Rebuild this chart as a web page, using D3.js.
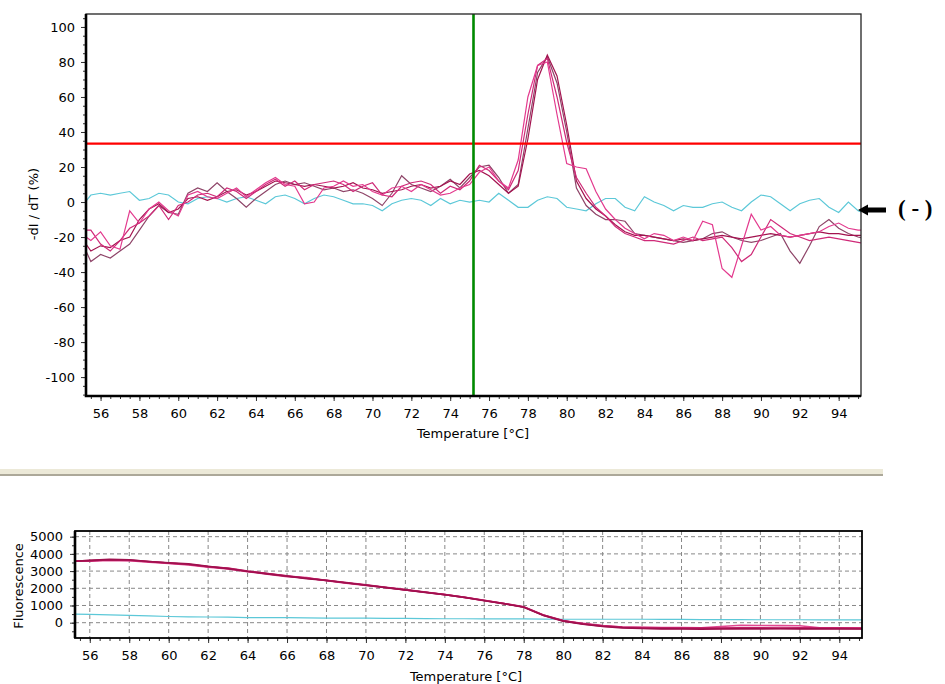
<!DOCTYPE html>
<html>
<head>
<meta charset="utf-8">
<script src="https://cdn.jsdelivr.net/npm/d3@7"></script>
<style>
  body { margin: 0; background: #fff; }
  svg { display: block; }
  text { font-family: "DejaVu Sans", Verdana, sans-serif; }
</style>
</head>
<body>
<svg id="chart" width="945" height="684"></svg>
<script>
// melt curve data
let temps = [55.0, 55.5, 56.0, 56.5, 57.0, 57.5, 58.0, 58.5, 59.0, 59.5,
  60.0, 60.5, 61.0, 61.5, 62.0, 62.5, 63.0, 63.5, 64.0, 64.5,
  65.0, 65.5, 66.0, 66.5, 67.0, 67.5, 68.0, 68.5, 69.0, 69.5,
  70.0, 70.5, 71.0, 71.5, 72.0, 72.5, 73.0, 73.5, 74.0, 74.5,
  75.0, 75.5, 76.0, 76.5, 77.0, 77.5, 78.0, 78.5, 79.0, 79.5,
  80.0, 80.5, 81.0, 81.5, 82.0, 82.5, 83.0, 83.5, 84.0, 84.5,
  85.0, 85.5, 86.0, 86.5, 87.0, 87.5, 88.0, 88.5, 89.0, 89.5,
  90.0, 90.5, 91.0, 91.5, 92.0, 92.5, 93.0, 93.5, 94.0, 94.5,
  95.0, 95.5];

let dA = [-18, -22, -17, -25, -27, -5, -12, -4, 0, -5,
  -8, 4, 6, 3, 2, 5, 8, 3, 7, 11,
  14, 10, 9, -1, 0, 8, 9, 12, 9, 10,
  6, 4, 8, 9, 6, 10, 7, 4, 5, 8,
  10, 17, 20, 12, 8, 24, 60, 78, 80, 50,
  22, 20, 19, 6, -4, -10, -15, -18, -21, -18,
  -19, -22, -20, -22, -11, -13, -38, -43, -25, -7,
  -16, -14, -19, -20, -19, -18, -17, -14, -12, -15,
  -16, -16];
let dB = [-20, -28, -25, -26, -22, -20, -10, -4, -1, -6,
  -4, 2, 3, 1, 3, 6, 7, 4, 6, 9,
  12, 11, 10, 9, 10, 9, 8, 9, 11, 8,
  7, 5, 6, 7, 9, 10, 8, 9, 12, 10,
  16, 18, 15, 10, 5, 9, 36, 70, 84, 72,
  44, 12, 2, -4, -8, -13, -17, -19, -19, -20,
  -21, -22, -21, -22, -21, -20, -19, -20, -21, -20,
  -19, -18, -19, -20, -19, -18, -17, -18, -18, -19,
  -19, -19];
let dC = [-22, -34, -30, -32, -28, -24, -16, -8, -2, -6,
  -7, 5, 8, 6, 11, 6, 2, -3, 2, 6,
  10, 12, 10, 11, 9, 7, 8, 6, 7, 5,
  2, -2, 5, 15, 10, 8, 6, 9, 13, 8,
  14, 20, 21, 14, 5, 10, 42, 74, 83, 68,
  40, 8, -2, -7, -10, -10, -11, -18, -19, -20,
  -21, -22, -23, -22, -21, -18, -17, -20, -22, -23,
  -22, -20, -18, -28, -35, -25, -14, -10, -15, -18,
  -20, -21];
let dD = [-16, -16, -24, -28, -22, -15, -12, -8, -2, -10,
  -2, 0, 4, 5, 3, 8, 6, 2, 6, 10,
  13, 9, 12, 7, 10, 11, 12, 10, 6, 9,
  11, 4, 3, 9, 11, 12, 10, 5, 9, 7,
  12, 21, 18, 12, 7, 18, 50, 78, 82, 60,
  34, 14, 5, -3, -8, -14, -18, -20, -22, -22,
  -23, -24, -22, -20, -22, -21, -20, -26, -34, -30,
  -20, -10, -14, -18, -20, -22, -21, -20, -21, -22,
  -23, -24];
let dNeg = [-3, 4, 5, 4, 5, 6, 1, 2, 5, 4,
  0, -1, 2, 3, 2, 0, 2, 3, 1, -1,
  3, 4, 2, -1, 2, 4, 3, 1, -1, -1,
  -2, -5, -1, 1, 2, 1, -2, 2, -1, 1,
  0, 1, 0, 5, 1, -3, -3, 1, 3, 2,
  -3, -4, -5, -1, 2, 2, -3, -5, 3, 0,
  -2, -5, -2, -3, -3, -1, 0, -3, -5, 0,
  4, 3, -1, -5, -1, 1, 2, -3, -6, 0,
  -5, -7];

let threshold = 33.4;
let cursorTemp = 75.2;

// raw fluorescence
let ftemps = [55, 56, 57, 58, 59, 60, 61, 62, 63, 64,
  65, 66, 67, 68, 69, 70, 71, 72, 73, 74,
  75, 76, 77, 78, 79, 80, 81, 82, 83, 84,
  85, 86, 87, 88, 89, 90, 91, 92, 93, 94,
  95, 96];
let fA = [3580, 3600, 3640, 3620, 3540, 3460, 3380, 3250, 3170, 3000,
  2860, 2720, 2590, 2470, 2330, 2200, 2060, 1920, 1780, 1640,
  1480, 1300, 1120, 920, 450, 120, -60, -180, -260, -280,
  -290, -300, -300, -310, -300, -300, -310, -300, -300, -300,
  -310, -310];
let fB = [3560, 3620, 3680, 3660, 3560, 3480, 3420, 3280, 3140, 2980,
  2840, 2700, 2560, 2450, 2320, 2180, 2040, 1900, 1760, 1620,
  1460, 1280, 1100, 900, 420, 90, -90, -220, -300, -340,
  -360, -370, -380, -370, -360, -360, -350, -360, -360, -370,
  -370, -370];
let fC = [3600, 3580, 3620, 3600, 3520, 3440, 3360, 3230, 3120, 2960,
  2820, 2680, 2620, 2440, 2300, 2170, 2050, 1910, 1770, 1630,
  1470, 1290, 1110, 910, 430, 100, -40, -170, -250, -270,
  -280, -280, -290, -220, -150, -160, -170, -180, -290, -300,
  -300, -300];
let fD = [3570, 3610, 3660, 3640, 3560, 3470, 3400, 3260, 3160, 2990,
  2850, 2710, 2580, 2460, 2310, 2190, 2050, 1910, 1770, 1630,
  1470, 1290, 1110, 910, 440, 110, -70, -200, -280, -320,
  -330, -340, -340, -330, -320, -320, -330, -340, -340, -340,
  -350, -350];
let fNeg = [500, 480, 450, 420, 400, 360, 340, 330, 320, 300,
  300, 290, 280, 270, 260, 260, 250, 250, 240, 230,
  230, 220, 220, 220, 210, 200, 200, 200, 200, 200,
  190, 190, 180, 180, 180, 170, 170, 170, 160, 160,
  160, 160];

let topColors = ['#e33a8e', '#a3134f', '#8e4468', '#cf2a78'];
let botColors = ['#c8246e', '#a0104e', '#e04890', '#b3195c'];
let negColor = '#5cc8d8';

let svg = d3.select('#chart');
let plain = d => String(d);   // hyphen minus, no thousands separator

// ---------- top panel: -dI/dT ----------
let x = d3.scaleLinear().domain([55.25, 95.15]).range([86, 861]);
let y = d3.scaleLinear().domain([-110.8, 107.4]).range([396, 14]);

let defs = svg.append('defs');
defs.append('clipPath').attr('id', 'clipTop')
  .append('rect').attr('x', 86).attr('y', 14).attr('width', 775).attr('height', 382);
defs.append('clipPath').attr('id', 'clipBot')
  .append('rect').attr('x', 75).attr('y', 531).attr('width', 787).attr('height', 107);

let gTop = svg.append('g');

// minor ticks first
gTop.append('g').attr('transform', 'translate(86,0)')
  .call(d3.axisLeft(y).tickValues(d3.range(-110, 106, 5)).tickSize(3).tickFormat(''))
  .call(g => g.select('.domain').remove());
gTop.append('g').attr('transform', 'translate(0,396)')
  .call(d3.axisBottom(x).tickValues(d3.range(55.5, 95.1, 0.5)).tickSize(3).tickFormat(''))
  .call(g => g.select('.domain').remove());

gTop.append('g').attr('class', 'ax').attr('transform', 'translate(86,0)')
  .call(d3.axisLeft(y).tickValues(d3.range(-100, 101, 20)).tickFormat(plain).tickSize(5).tickPadding(6))
  .call(g => g.select('.domain').remove());
gTop.append('g').attr('class', 'ax').attr('transform', 'translate(0,396)')
  .call(d3.axisBottom(x).tickValues(d3.range(56, 95, 2)).tickFormat(plain).tickSize(5).tickPadding(8))
  .call(g => g.select('.domain').remove());

let line = (xs, ys, sx, sy) => d3.line().x((d, i) => sx(xs[i])).y(d => sy(d))(ys);

let plotTop = gTop.append('g').attr('clip-path', 'url(#clipTop)');
plotTop.append('path').attr('d', line(temps, dNeg, x, y))
  .attr('fill', 'none').attr('stroke', negColor).attr('stroke-width', 1.2);
[[dC, topColors[2]], [dB, topColors[1]], [dD, topColors[3]], [dA, topColors[0]]].forEach(([s, c]) => {
  plotTop.append('path').attr('d', line(temps, s, x, y))
    .attr('fill', 'none').attr('stroke', c).attr('stroke-width', 1.2);
});

plotTop.append('line')
  .attr('x1', 86).attr('x2', 861).attr('y1', y(threshold)).attr('y2', y(threshold))
  .attr('stroke', '#ff0000').attr('stroke-width', 2.2);
plotTop.append('line')
  .attr('x1', x(cursorTemp)).attr('x2', x(cursorTemp)).attr('y1', 14).attr('y2', 396)
  .attr('stroke', '#008a00').attr('stroke-width', 2.6);

// frame
gTop.append('rect').attr('x', 86).attr('y', 14).attr('width', 775).attr('height', 382)
  .attr('fill', 'none').attr('stroke', '#222').attr('stroke-width', 1.3);
gTop.append('path').attr('d', 'M86,14V396H861')
  .attr('fill', 'none').attr('stroke', '#000').attr('stroke-width', 2.6);

gTop.append('text').attr('x', 473).attr('y', 438).attr('text-anchor', 'middle')
  .style('font-size', '13px').text('Temperature [°C]');
gTop.append('text').attr('transform', 'translate(38,204) rotate(-90)').attr('text-anchor', 'middle')
  .style('font-size', '13px').text('-dI / dT (%)');

// arrow pointing at the negative control
gTop.append('path')
  .attr('d', 'M858,210 L868,204.5 L868,207.5 L886,207.5 L886,212.5 L868,212.5 L868,215.5 Z')
  .attr('fill', '#000');
gTop.append('text').attr('x', 898).attr('y', 216)
  .style('font-family', '"Liberation Serif", "Times New Roman", serif')
  .style('font-weight', 'bold').style('font-size', '23px').text('( - )');

// separator bar
svg.append('rect').attr('x', 0).attr('y', 469).attr('width', 883).attr('height', 5).attr('fill', '#ece9d8');
svg.append('rect').attr('x', 0).attr('y', 474).attr('width', 883).attr('height', 2).attr('fill', '#aca899');

// ---------- bottom panel: fluorescence ----------
let x2 = d3.scaleLinear().domain([55.25, 95.15]).range([75, 862]);
let y2 = d3.scaleLinear().domain([-890, 5330]).range([638, 531]);

let gBot = svg.append('g');

gBot.append('g').attr('transform', 'translate(0,638)')
  .call(d3.axisBottom(x2).tickValues(d3.range(55.5, 95.1, 0.5)).tickSize(3).tickFormat(''))
  .call(g => g.select('.domain').remove());
gBot.append('g').attr('transform', 'translate(75,0)')
  .call(d3.axisLeft(y2).tickValues(d3.range(-500, 5001, 500)).tickSize(3).tickFormat(''))
  .call(g => g.select('.domain').remove());

gBot.append('g').attr('class', 'ax').attr('transform', 'translate(75,0)')
  .call(d3.axisLeft(y2).tickValues(d3.range(0, 5001, 1000)).tickFormat(plain).tickSize(5).tickPadding(7))
  .call(g => g.select('.domain').remove());
gBot.append('g').attr('class', 'ax').attr('transform', 'translate(0,638)')
  .call(d3.axisBottom(x2).tickValues(d3.range(56, 95, 2)).tickFormat(plain).tickSize(5).tickPadding(8))
  .call(g => g.select('.domain').remove());

// dashed grid
let grid = gBot.append('g').attr('stroke', '#888').attr('stroke-width', 1).attr('stroke-dasharray', '4,3');
d3.range(56, 95, 2).forEach(t => {
  grid.append('line').attr('x1', x2(t)).attr('x2', x2(t)).attr('y1', 531).attr('y2', 638);
});
d3.range(0, 5001, 1000).forEach(v => {
  grid.append('line').attr('x1', 75).attr('x2', 862).attr('y1', y2(v)).attr('y2', y2(v));
});

let plotBot = gBot.append('g').attr('clip-path', 'url(#clipBot)');
plotBot.append('path').attr('d', line(ftemps, fNeg, x2, y2))
  .attr('fill', 'none').attr('stroke', negColor).attr('stroke-width', 1.2);
[[fC, botColors[2]], [fA, botColors[0]], [fD, botColors[3]], [fB, botColors[1]]].forEach(([s, c]) => {
  plotBot.append('path').attr('d', line(ftemps, s, x2, y2))
    .attr('fill', 'none').attr('stroke', c).attr('stroke-width', 1.6);
});

gBot.append('rect').attr('x', 75).attr('y', 531).attr('width', 787).attr('height', 107)
  .attr('fill', 'none').attr('stroke', '#000').attr('stroke-width', 1.8);
gBot.append('path').attr('d', 'M75,531V638')
  .attr('fill', 'none').attr('stroke', '#000').attr('stroke-width', 2.6);

gBot.append('text').attr('x', 466).attr('y', 681).attr('text-anchor', 'middle')
  .style('font-size', '13px').text('Temperature [°C]');
gBot.append('text').attr('transform', 'translate(23,586) rotate(-90)').attr('text-anchor', 'middle')
  .style('font-size', '13px').text('Fluorescence');

// axis text styling
svg.selectAll('.ax text').style('font-size', '13px').attr('fill', '#000');
svg.selectAll('.tick line').attr('stroke', '#333');
</script>
</body>
</html>
